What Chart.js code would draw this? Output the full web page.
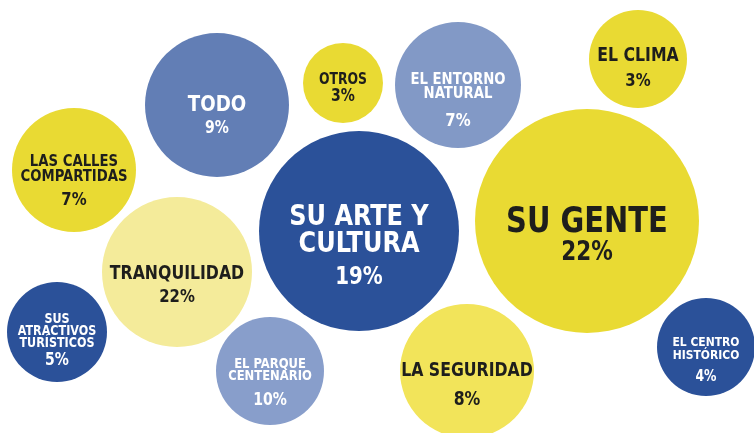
<!DOCTYPE html>
<html>
<head>
<meta charset="utf-8">
<script src="https://cdn.jsdelivr.net/npm/chart.js@4.4.1/dist/chart.umd.min.js"></script>
<style>
  body { margin: 0; background: #fff; }
  canvas { display: block; }
</style>
</head>
<body>
<canvas id="bubbles" width="754" height="433"></canvas>
<script>
// categories and values
const labels = [
    ["TODO"], ["OTROS"], ["EL ENTORNO", "NATURAL"], ["EL CLIMA"],
    ["LAS CALLES", "COMPARTIDAS"], ["SU ARTE Y", "CULTURA"], ["SU GENTE"],
    ["TRANQUILIDAD"], ["SUS", "ATRACTIVOS", "TURÍSTICOS"], ["EL PARQUE", "CENTENARIO"],
    ["LA SEGURIDAD"], ["EL CENTRO", "HISTÓRICO"]
];
const percents = [9, 3, 7, 3, 7, 19, 22, 22, 5, 10, 8, 4];
// bubble placement (x, y) and radius as drawn in the original
const xPos = [217, 343, 458, 638, 74, 359, 587, 177, 57, 270, 467, 706];
const yPos = [105, 83, 85, 59, 170, 231, 221, 272, 332, 371, 371, 347];
const radii = [72, 40, 63, 49, 62, 100, 112, 75, 50, 54, 67, 49];

// styling, kept apart from the data
const fills = ["#627eb5", "#e9da33", "#8299c6", "#e9da33", "#e9da33", "#2b5199",
               "#e9da33", "#f4eb9a", "#2b5199", "#889ecb", "#f2e45a", "#2b5199"];
const inks = ["#fff", "#1e1e1c", "#fff", "#1e1e1c", "#1e1e1c", "#fff",
              "#1e1e1c", "#1e1e1c", "#fff", "#fff", "#1e1e1c", "#fff"];
// [label size, percent size, first line offset, line step, percent offset]
const textLayout = [
    [22, 17, 0, 0, 24], [15, 17, -3, 0, 14], [16, 18, -5, 14, 36], [19, 18, -3, 0, 22],
    [16, 18, -8, 15, 30], [29, 24, -14, 27, 47], [35, 26, 2, 0, 32], [19, 18, 2, 0, 25],
    [13.5, 17, -13, 12, 29], [14, 17, -7, 12.5, 30], [19, 19, 0, 0, 29], [13, 15, -4, 13, 30]
];
const fontFamily = '"Liberation Sans Narrow", "DejaVu Sans Condensed", sans-serif';
const squeeze = 0.92; // original type is a narrow DIN

const bubbleText = {
    id: "bubbleText",
    afterDatasetsDraw(chart) {
        const ctx = chart.ctx;
        const meta = chart.getDatasetMeta(0);
        meta.data.forEach((el, i) => {
            const [ls, ps, first, step, pOff] = textLayout[i];
            ctx.save();
            ctx.translate(el.x, el.y);
            ctx.scale(squeeze, 1);
            ctx.textAlign = "center";
            ctx.textBaseline = "middle";
            ctx.fillStyle = inks[i];
            ctx.font = "bold " + ls + "px " + fontFamily;
            labels[i].forEach((line, j) => {
                ctx.fillText(line, 0, first + j * step);
            });
            ctx.font = "bold " + ps + "px " + fontFamily;
            ctx.fillText(percents[i] + "%", 0, pOff);
            ctx.restore();
        });
    }
};

new Chart(document.getElementById("bubbles"), {
    type: "bubble",
    data: {
        labels: labels.map(l => l.join(" ")),
        datasets: [{
            data: xPos.map((x, i) => ({ x: x, y: yPos[i], r: radii[i] })),
            backgroundColor: fills,
            hoverBackgroundColor: fills,
            borderWidth: 0,
            hoverBorderWidth: 0,
            hoverRadius: 0,
            clip: false
        }]
    },
    options: {
        responsive: false,
        animation: false,
        events: [],
        layout: { padding: 0, autoPadding: false },
        plugins: { legend: { display: false }, tooltip: { enabled: false } },
        scales: {
            x: { type: "linear", min: 0, max: 754, display: false },
            y: { type: "linear", min: 0, max: 433, reverse: true, display: false }
        }
    },
    plugins: [bubbleText]
});
</script>
</body>
</html>
